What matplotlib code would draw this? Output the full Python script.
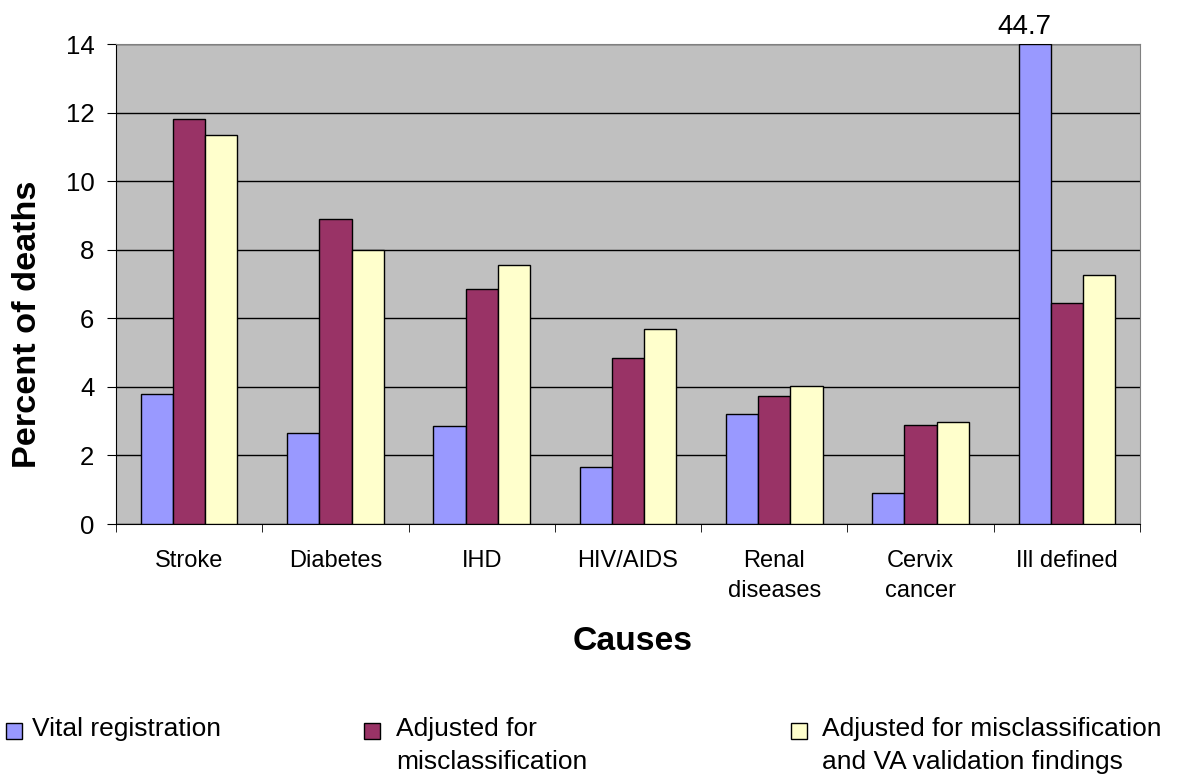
import numpy as np
import matplotlib
matplotlib.use('Agg')
import matplotlib.pyplot as plt
from matplotlib.patches import Rectangle

plt.rcParams['font.family'] = ['Liberation Sans', 'DejaVu Sans']

causes = ['Stroke', 'Diabetes', 'IHD', 'HIV/AIDS', 'Renal\ndiseases', 'Cervix\ncancer', 'Ill defined']
vital = [3.8, 2.65, 2.87, 1.67, 3.2, 0.9, 44.7]
adj_miscl = [11.8, 8.9, 6.85, 4.85, 3.72, 2.88, 6.45]
adj_va = [11.35, 8.0, 7.55, 5.7, 4.02, 2.97, 7.25]
series_names = ['Vital registration', 'Adjusted for\nmisclassification',
                'Adjusted for misclassification\nand VA validation findings']
colors = ['#9999FF', '#993366', '#FFFFCC']
ymax = 14

W, H = 1181, 776
fig = plt.figure(figsize=(W/100, H/100), dpi=100)
ax = fig.add_axes([116/W, 1-524/H, (1140-116)/W, (524-44)/H])
ax.set_facecolor('#C0C0C0')

x = np.arange(len(causes))
w = 0.22
for i, (vals, c) in enumerate(zip([vital, adj_miscl, adj_va], colors)):
    shown = np.minimum(vals, ymax)   # Ill defined VR bar is cut at the top
    ax.bar(x + (i-1)*w, shown, w, color=c, edgecolor='black', linewidth=1, zorder=3)

# value of the clipped bar
ax.text(x[-1] - w - 0.07, ymax + 0.29, '%.1f' % vital[-1], ha='center', va='baseline',
        fontsize=20, clip_on=False)

ax.set_xlim(-0.5, len(causes) - 0.5)
ax.set_ylim(0, ymax)
ax.set_yticks(np.arange(0, ymax+1, 2))
ax.yaxis.grid(True, color='black', linewidth=1)
ax.set_axisbelow(True)
ax.tick_params(axis='y', labelsize=18.5, length=6.5, direction='out', pad=9)

ax.set_xticks(x)
ax.set_xticklabels(causes, fontsize=17, linespacing=1.45)
ax.set_xticks(np.arange(-0.5, len(causes)), minor=True)
ax.tick_params(axis='x', which='major', length=0, pad=19)
ax.tick_params(axis='x', which='minor', length=6, direction='out')

for s in ['top', 'right']:
    ax.spines[s].set_color('#808080')
for s in ['left', 'bottom']:
    ax.spines[s].set_color('black')

fig.text(28/W, 1-324/H, 'Percent of deaths', rotation=90, ha='center', va='center',
         fontsize=24.7, fontweight='bold')
fig.text(633/W, 1-641/H, 'Causes', ha='center', va='center', fontsize=24.3, fontweight='bold')

# legend laid out by hand, like the original
sq_x = [6, 364, 791]
txt_x = [32, 396, 822]
for name, c, sx, tx in zip(series_names, colors, sq_x, txt_x):
    fig.patches.append(Rectangle((sx/W, 1-739/H), 16/W, 16/H, transform=fig.transFigure,
                                 facecolor=c, edgecolor='black', linewidth=1))
    fig.text(tx/W, 1-717/H, name, ha='left', va='top', fontsize=19, linespacing=1.45)

fig.savefig('out.png', dpi=100)
